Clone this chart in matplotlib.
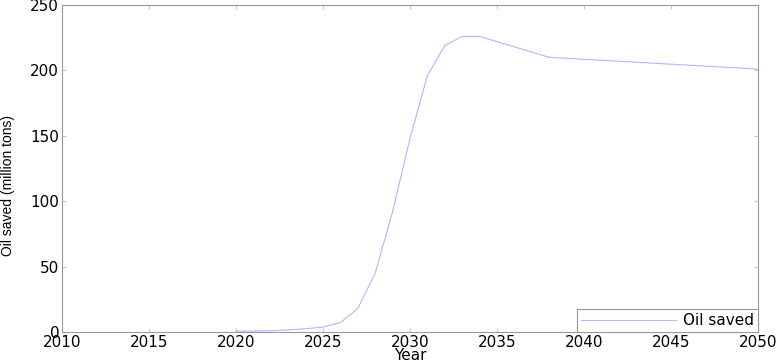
import numpy as np
import matplotlib
matplotlib.use("Agg")
import matplotlib.pyplot as plt

plt.rcParams['font.family'] = ['DejaVu Sans']

# Oil saved per year [million tons]
Year = np.array([2020, 2021, 2022, 2023, 2024, 2025, 2026, 2027, 2028, 2029,
                 2030, 2031, 2032, 2033, 2034, 2035, 2036, 2037, 2038, 2050])
OilSaved = np.array([0.5, 0.7, 1.0, 1.6, 2.5, 3.8, 7.2, 18, 45, 92,
                     148, 196, 219, 226, 226, 222, 218, 214, 210, 201])

fig = plt.figure(figsize=(7.82, 3.64), dpi=100)
ax = fig.add_axes([0.0793, 0.0879, 0.89, 0.8984])

ax.plot(Year, OilSaved, color='#b4b4ff', linewidth=0.8, label='Oil saved')

ax.set_xlim(2010, 2050)
ax.set_ylim(0, 250)
ax.set_xticks(np.arange(2010, 2051, 5))
ax.set_yticks(np.arange(0, 251, 50))
ax.tick_params(direction='in', top=True, right=True, length=3,
               color='#c8c8c8', labelsize=11, pad=2)
for s in ax.spines.values():
    s.set_color('#999999')
    s.set_linewidth(0.8)

ax.set_xlabel('Year', fontsize=11, labelpad=-1)
ax.set_ylabel('Oil saved (million tons)', fontsize=10,
              family='Liberation Sans')
ax.yaxis.set_label_coords(-0.068, 0.447)

leg = ax.legend(loc='lower right', fontsize=11, handlelength=6.2,
                borderaxespad=0, fancybox=False, framealpha=1,
                borderpad=0.25, handletextpad=0.5)
leg.get_frame().set_edgecolor('#999999')
leg.get_frame().set_linewidth(0.8)

fig.savefig('out.png', dpi=100)
